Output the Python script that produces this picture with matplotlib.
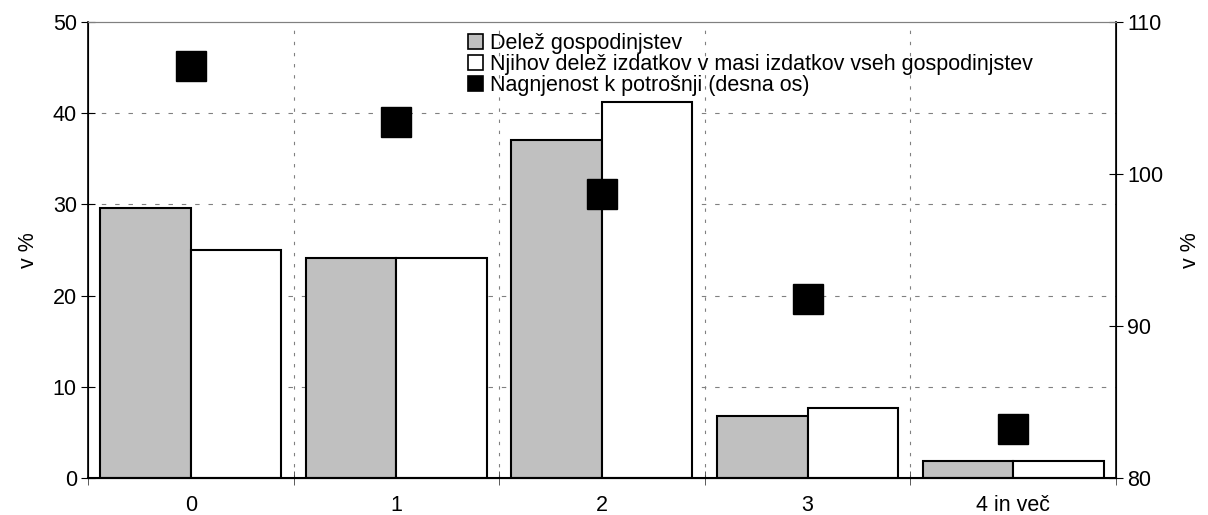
import numpy as np
import matplotlib
matplotlib.use("Agg")
import matplotlib.pyplot as plt
from matplotlib.patches import Patch

plt.rcParams['font.family'] = ['Liberation Sans', 'DejaVu Sans']

categories = ['0', '1', '2', '3', '4 in več']
delez_gosp = [29.6, 24.1, 37.1, 6.8, 1.9]
delez_izdatkov = [25.0, 24.1, 41.2, 7.7, 1.9]
nagnjenost = [107.1, 103.4, 98.7, 91.8, 83.2]

x = np.arange(len(categories))
w = 0.44
fs = 15.5

fig = plt.figure(figsize=(12.08, 5.15), dpi=100)
ax = fig.add_axes([0.0728, 0.0718, 0.8510, 0.8855])

# grid behind bars
for yv in [10, 20, 30, 40]:
    ax.axhline(yv, color='#808080', lw=0.8, ls=(0, (4, 8)), zorder=0)
for xv in np.arange(0.5, len(categories) - 0.5, 1):
    ax.axvline(xv, color='#808080', lw=0.8, ls=(0, (3, 7)), zorder=0)

ax.bar(x - w / 2, delez_gosp, w, color='#c0c0c0', edgecolor='black', lw=1.5, zorder=2)
ax.bar(x + w / 2, delez_izdatkov, w, color='white', edgecolor='black', lw=1.5, zorder=2)

ax.set_xlim(-0.5, len(categories) - 0.5)
ax.set_ylim(0, 50)
ax.set_yticks(range(0, 51, 10))
ax.set_xticks(x)
ax.set_xticklabels(categories)
ax.set_xticks(np.arange(-0.5, len(categories), 1), minor=True)
ax.tick_params(axis='x', which='major', length=0, pad=12, labelsize=fs)
ax.tick_params(axis='x', which='minor', direction='inout', length=10, color='#404040')
ax.tick_params(axis='y', direction='inout', length=10, labelsize=fs, pad=3)
ax.set_ylabel('v %', fontsize=fs, labelpad=10)
ax.spines['top'].set_color('#808080')
ax.spines['left'].set_linewidth(1.2)
ax.spines['bottom'].set_linewidth(1.5)

ax2 = ax.twinx()
ax2.plot(x, nagnjenost, ls='none', marker='s', ms=21, color='black', zorder=5)
ax2.set_ylim(80, 110)
ax2.set_yticks(range(80, 111, 10))
ax2.tick_params(axis='y', direction='inout', length=10, labelsize=fs, pad=3)
ax2.set_ylabel('v %', fontsize=fs, labelpad=12)
ax2.spines['top'].set_color('#808080')
ax2.spines['right'].set_linewidth(1.2)

handles = [
    Patch(facecolor='#c0c0c0', edgecolor='black', lw=1.2),
    Patch(facecolor='white', edgecolor='black', lw=1.2),
    Patch(facecolor='black', edgecolor='black', lw=1.2),
]
labels = ['Delež gospodinjstev',
          'Njihov delež izdatkov v masi izdatkov vseh gospodinjstev',
          'Nagnjenost k potrošnji (desna os)']
fig.legend(handles, labels, loc='upper left', bbox_to_anchor=(468 / 1208, 1 - 33 / 515),
           frameon=False, fontsize=15.5, handlelength=0.7, handleheight=0.7,
           handletextpad=0.3, labelspacing=0.0, borderpad=0, borderaxespad=0)

fig.savefig('out.png', dpi=100)
